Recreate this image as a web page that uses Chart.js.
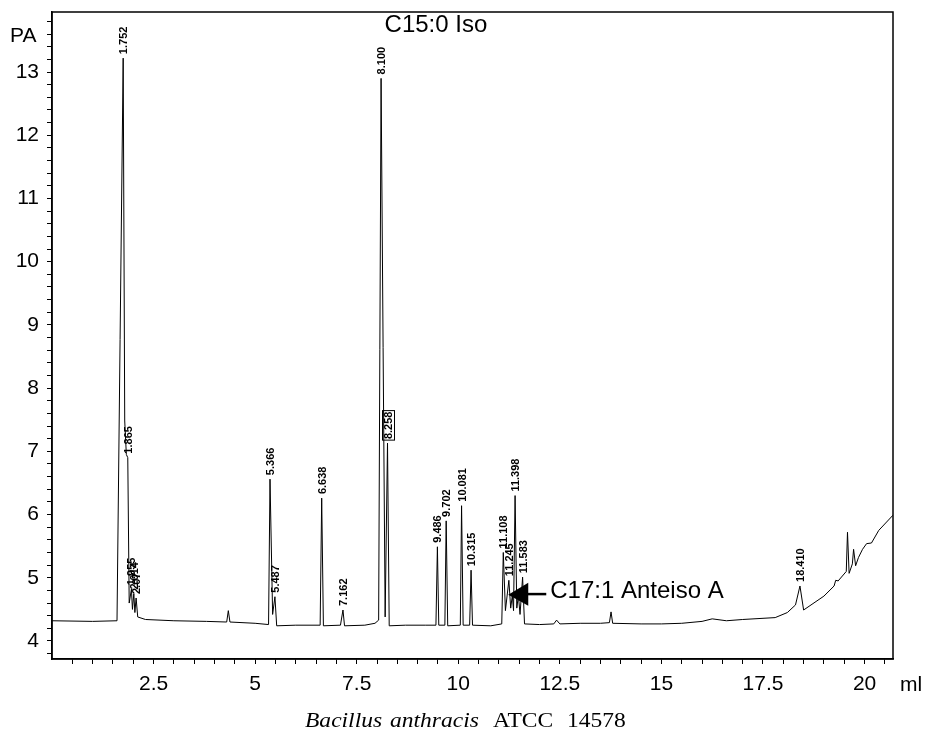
<!DOCTYPE html>
<html>
<head>
<meta charset="utf-8">
<script src="https://cdn.jsdelivr.net/npm/chart.js@4.4.1/dist/chart.umd.min.js"></script>
<style>
  html, body { margin: 0; padding: 0; background: #fff; }
  canvas { display: block; }
</style>
</head>
<body>
<canvas id="gc" width="926" height="732"></canvas>
<script>
// retention volume (ml) and detector signal (PA)
const retention = [
  0.00, 1.00, 1.60, 1.752, 1.79, 1.83, 1.865, 1.90, 1.955, 1.98, 2.014, 2.04, 2.07, 2.11, 2.30,
  3.00, 3.80, 4.30, 4.34, 4.38, 5.00, 5.33, 5.366, 5.43, 5.487, 5.53, 6.00,
  6.60, 6.638, 6.68, 7.10, 7.162, 7.20, 7.70, 7.95, 8.04, 8.100, 8.20, 8.258, 8.30,
  8.70, 9.20, 9.45, 9.486, 9.52, 9.67, 9.702, 9.74, 10.05, 10.081, 10.12, 10.28, 10.315, 10.35,
  10.80, 11.07, 11.108, 11.16, 11.245, 11.29, 11.33, 11.36, 11.398, 11.44, 11.48, 11.52, 11.583, 11.63,
  12.00, 12.35, 12.42, 12.50, 13.00, 13.50, 13.72, 13.76, 13.80, 14.50, 15.00, 15.50,
  16.00, 16.25, 16.60, 17.00, 17.80, 18.10, 18.30, 18.41, 18.50, 19.00, 19.25, 19.29, 19.35,
  19.55, 19.58, 19.62, 19.70, 19.73, 19.78, 19.85, 19.95, 20.05, 20.17, 20.35, 20.70
];
const signal = [
  4.32, 4.31, 4.32, 13.22, 7.48, 6.95, 6.90, 4.60, 4.82, 4.50, 4.75, 4.45, 4.68, 4.38, 4.34,
  4.32, 4.31, 4.30, 4.48, 4.30, 4.28, 4.26, 6.56, 4.42, 4.70, 4.24, 4.25,
  4.25, 6.26, 4.24, 4.25, 4.49, 4.24, 4.25, 4.28, 4.33, 12.90, 4.38, 7.13, 4.24,
  4.25, 4.25, 4.25, 5.49, 4.25, 4.25, 5.90, 4.24, 4.25, 6.14, 4.25, 4.25, 5.12, 4.25,
  4.24, 4.27, 5.40, 4.48, 4.96, 4.52, 4.72, 4.48, 6.30, 4.52, 4.72, 4.42, 5.01, 4.27,
  4.26, 4.27, 4.33, 4.27, 4.28, 4.28, 4.29, 4.46, 4.28, 4.27, 4.27, 4.28,
  4.31, 4.35, 4.32, 4.34, 4.37, 4.45, 4.57, 4.87, 4.49, 4.71, 4.87, 4.96, 4.95,
  5.10, 5.72, 5.07, 5.22, 5.45, 5.19, 5.32, 5.45, 5.54, 5.55, 5.75, 5.99
];

// integrated peaks and the retention labels printed on them
const peakTimes = [1.752, 1.865, 1.955, 2.014, 2.07, 5.366, 5.487, 6.638, 7.162, 8.100,
  8.258, 9.486, 9.702, 10.081, 10.315, 11.108, 11.245, 11.398, 11.583, 18.41];
const peakLabels = ["1.752", "1.865", "1.955", "2.014", "2.07", "5.366", "5.487", "6.638", "7.162", "8.100",
  "8.258", "9.486", "9.702", "10.081", "10.315", "11.108", "11.245", "11.398", "11.583", "18.410"];

const xTickLabels = [2.5, 5, 7.5, 10, 12.5, 15, 17.5, 20];
const yTickLabels = [4, 5, 6, 7, 8, 9, 10, 11, 12, 13];

const FONT = '"Liberation Sans", Arial, sans-serif';

const overlay = {
  id: 'overlay',
  afterDatasetsDraw(chart) {
    const { ctx, chartArea: a, scales: { x, y } } = chart;
    ctx.save();
    ctx.strokeStyle = '#000';
    ctx.fillStyle = '#000';
    ctx.lineWidth = 1.5;
    ctx.strokeRect(a.left, a.top, a.right - a.left, a.bottom - a.top);

    // peak labels, reading bottom to top above each apex
    ctx.font = 'bold 11px ' + FONT;
    ctx.textAlign = 'left';
    ctx.textBaseline = 'middle';
    peakTimes.forEach((t, i) => {
      const k = retention.findIndex(r => Math.abs(r - t) < 1e-9);
      if (k < 0) return;
      const px = x.getPixelForValue(t) + 1;
      const py = y.getPixelForValue(signal[k]) - 4;
      ctx.save();
      ctx.translate(px, py);
      ctx.rotate(-Math.PI / 2);
      ctx.fillText(peakLabels[i], 0, 0);
      if (peakLabels[i] === "8.258") {
        const w = ctx.measureText(peakLabels[i]).width;
        ctx.lineWidth = 1;
        ctx.strokeRect(-1, -6, w + 2, 12);
      }
      ctx.restore();
    });

    // peak names
    ctx.font = '24px ' + FONT;
    ctx.textBaseline = 'alphabetic';
    ctx.textAlign = 'center';
    ctx.fillText('C15:0 Iso', x.getPixelForValue(9.45), 32);
    ctx.textAlign = 'left';
    const tx = x.getPixelForValue(11.23);
    const ty = y.getPixelForValue(4.73);
    ctx.fillText('C17:1 Anteiso A', tx + 42, ty + 3);
    // arrow
    ctx.beginPath();
    ctx.moveTo(tx, ty);
    ctx.lineTo(tx + 20, ty - 12);
    ctx.lineTo(tx + 20, ty + 11);
    ctx.closePath();
    ctx.fill();
    ctx.fillRect(tx + 19, ty - 2, 19, 2.5);

    // axis units
    ctx.font = '21px ' + FONT;
    ctx.fillText('PA', 10, 42);
    ctx.fillText('ml', 900, 691);

    // caption
    const words = [['Bacillus', 305, true], ['anthracis', 390, true], ['ATCC', 493, false], ['14578', 567, false]];
    words.forEach(([w, wx, it]) => {
      ctx.font = (it ? 'italic ' : '') + '21px "Liberation Serif", "Times New Roman", serif';
      ctx.save();
      ctx.translate(wx, 727);
      ctx.scale(1.12, 1);
      ctx.fillText(w, 0, 0);
      ctx.restore();
    });
    ctx.restore();
  }
};

new Chart(document.getElementById('gc').getContext('2d'), {
  type: 'line',
  data: {
    datasets: [{
      data: retention.map((t, i) => ({ x: t, y: signal[i] })),
      borderColor: '#000',
      borderWidth: 1,
      pointRadius: 0,
      tension: 0,
      fill: false
    }]
  },
  options: {
    responsive: false,
    animation: false,
    devicePixelRatio: 1,
    layout: { padding: { top: 12, right: 33, bottom: 0, left: 0 } },
    plugins: { legend: { display: false }, tooltip: { enabled: false } },
    scales: {
      x: {
        type: 'linear',
        min: 0,
        max: 20.7,
        afterFit: s => { s.height = 73; s.paddingLeft = 0; s.paddingRight = 0; },
        afterBuildTicks: s => {
          const t = [];
          for (let k = 1; k * 0.5 < 20.7; k++) t.push({ value: k * 0.5 });
          s.ticks = t;
        },
        ticks: {
          autoSkip: false,
          maxRotation: 0,
          padding: 8,
          color: '#000',
          font: { family: FONT, size: 21 },
          callback: v => xTickLabels.find(l => Math.abs(l - v) < 1e-6) !== undefined ? String(v) : ''
        },
        grid: { drawOnChartArea: false, tickLength: 5, color: '#000' },
        border: { color: '#000', width: 1.5 }
      },
      y: {
        min: 3.715,
        max: 13.95,
        afterFit: s => { s.width = 52; s.paddingTop = 0; s.paddingBottom = 0; },
        afterBuildTicks: s => {
          const t = [];
          for (let k = 19; k * 0.2 < 13.95; k++) t.push({ value: Math.round(k * 2) / 10 });
          s.ticks = t;
        },
        ticks: {
          autoSkip: false,
          padding: 8,
          color: '#000',
          font: { family: FONT, size: 21 },
          callback: v => yTickLabels.find(l => Math.abs(l - v) < 1e-6) !== undefined ? String(v) : ''
        },
        grid: { drawOnChartArea: false, tickLength: 5, color: '#000' },
        border: { color: '#000', width: 1.5 }
      }
    }
  },
  plugins: [overlay]
});
</script>
</body>
</html>
